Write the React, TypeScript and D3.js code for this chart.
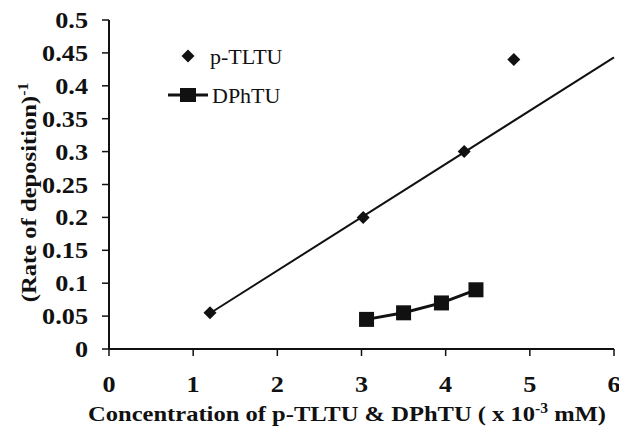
import React from "react";
import * as d3 from "d3";

const xTicks = [0, 1, 2, 3, 4, 5, 6];
const yTicks = [0, 0.05, 0.1, 0.15, 0.2, 0.25, 0.3, 0.35, 0.4, 0.45, 0.5];
const yTickLabels = ["0", "0.05", "0.1", "0.15", "0.2", "0.25", "0.3", "0.35", "0.4", "0.45", "0.5"];

const tltuX = [1.2, 3.02, 4.22, 4.81];
const tltuY = [0.055, 0.2, 0.3, 0.44];
const dphtuX = [3.06, 3.5, 3.95, 4.36];
const dphtuY = [0.045, 0.055, 0.07, 0.09];
const trendRange = [1.2, 6];

export default function App() {
  const W = 619, H = 427;
  const x = d3.scaleLinear().domain([0, 6]).range([109, 614]);
  const y = d3.scaleLinear().domain([0, 0.5]).range([349, 20]);
  const font = "'Liberation Serif', 'Times New Roman', serif";

  // least squares on first three p-TLTU points
  const fx = tltuX.slice(0, 3), fy = tltuY.slice(0, 3);
  const mx = d3.mean(fx)!, my = d3.mean(fy)!;
  const sxy = d3.sum(fx.map((v, i) => (v - mx) * (fy[i] - my)));
  const sxx = d3.sum(fx.map((v) => (v - mx) ** 2));
  const slope = sxy / sxx, icpt = my - slope * mx;

  const line = d3.line<[number, number]>().x((d) => x(d[0])).y((d) => y(d[1]));
  const dData: [number, number][] = dphtuX.map((v, i) => [v, dphtuY[i]]);
  const diamond = (cx: number, cy: number, r: number) =>
    `M${cx},${cy - r}L${cx + r},${cy}L${cx},${cy + r}L${cx - r},${cy}Z`;

  return (
    <svg width={W} height={H} style={{ position: "absolute", left: 0, top: 0, background: "#fff" }}>
      {/* axes */}
      <line x1={x(0)} x2={x(0)} y1={y(0.5)} y2={y(0)} stroke="#111" strokeWidth={2} />
      <line x1={x(0)} x2={x(6)} y1={y(0)} y2={y(0)} stroke="#111" strokeWidth={2} />
      {yTicks.map((t, i) => (
        <g key={"y" + i}>
          <line x1={x(0) - 7} x2={x(0)} y1={y(t)} y2={y(t)} stroke="#111" strokeWidth={1.5} />
          <text transform={`translate(${x(0) - 21},${y(t)}) scale(1.14,1)`} dy="0.35em" textAnchor="end" fontFamily={font} fontWeight="bold" fontSize={23} fill="#111">
            {yTickLabels[i]}
          </text>
        </g>
      ))}
      {xTicks.map((t) => (
        <g key={"x" + t}>
          <line x1={x(t)} x2={x(t)} y1={y(0)} y2={y(0) + 7} stroke="#111" strokeWidth={1.5} />
          <text transform={`translate(${x(t)},392) scale(1.14,1)`} textAnchor="middle" fontFamily={font} fontWeight="bold" fontSize={23} fill="#111">
            {t}
          </text>
        </g>
      ))}
      {/* trend line */}
      <path d={line(trendRange.map((v) => [v, icpt + slope * v]) as [number, number][])!} stroke="#111" strokeWidth={2} fill="none" />
      {/* p-TLTU markers */}
      {tltuX.map((v, i) => (
        <path key={"t" + i} d={diamond(x(v), y(tltuY[i]), 6.5)} fill="#111" />
      ))}
      {/* DPhTU */}
      <path d={line(dData)!} stroke="#111" strokeWidth={3} fill="none" />
      {dData.map((d, i) => (
        <rect key={"d" + i} x={x(d[0]) - 7.5} y={y(d[1]) - 7.5} width={15} height={15} fill="#111" />
      ))}
      {/* legend */}
      <path d={diamond(188, 56, 6.5)} fill="#111" />
      <text x={210} y={56} dy="0.35em" fontFamily={font} fontSize={22} fill="#111">p-TLTU</text>
      <line x1={168} x2={208} y1={95} y2={95} stroke="#111" strokeWidth={3} />
      <rect x={180} y={88} width={16} height={14} fill="#111" />
      <text x={212} y={95} dy="0.35em" fontFamily={font} fontSize={22} fill="#111">DPhTU</text>
      {/* axis titles */}
      <text x={88} y={421} textLength={518} lengthAdjust="spacingAndGlyphs" fontFamily={font} fontWeight="bold" fontSize={22} fill="#111">
        Concentration of p-TLTU &amp; DPhTU ( x 10<tspan dy={-8} fontSize={14}>-3</tspan><tspan dy={8}> mM)</tspan>
      </text>
      <text transform={`translate(36,${y(0.25) + 8}) rotate(-90) scale(1.12,1)`} textAnchor="middle" fontFamily={font} fontWeight="bold" fontSize={22} fill="#111">
        (Rate of deposition)<tspan dy={-8} fontSize={14}>-1</tspan>
      </text>
    </svg>
  );
}
